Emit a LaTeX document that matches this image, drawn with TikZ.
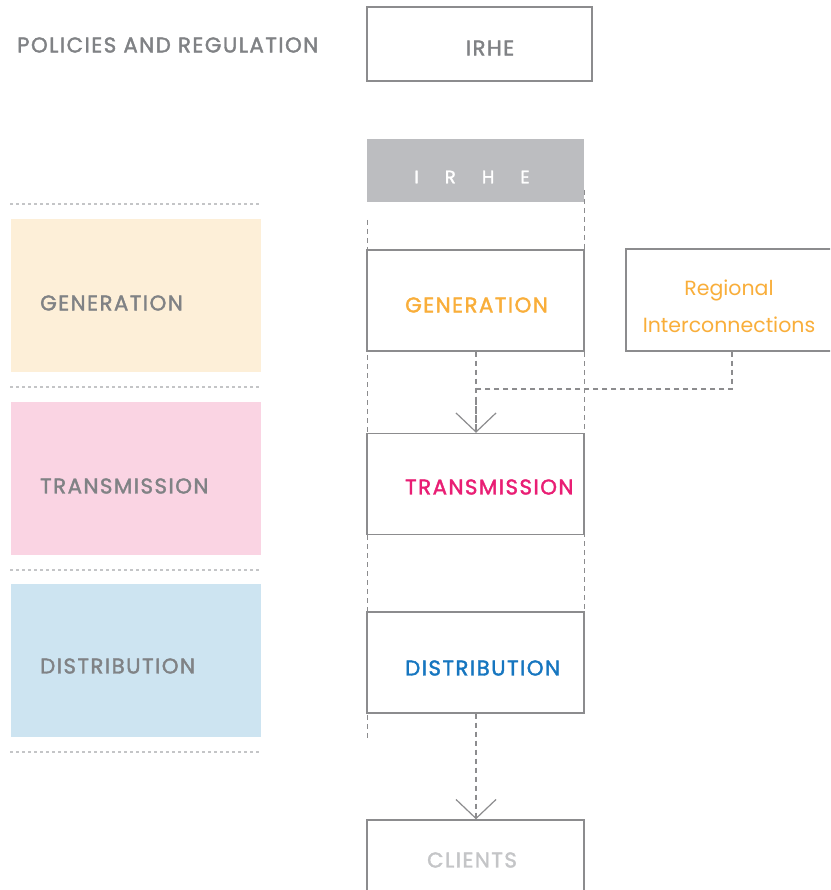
\documentclass[tikz,border=0pt]{standalone}
\usepackage{fontspec}
\setmainfont{Poppins}
\newfontfamily\capsfont{Poppins}[LetterSpace=7,FakeBold=1.8]
\usetikzlibrary{arrows.meta}

\definecolor{txtgray}{HTML}{808285}
\definecolor{linegray}{HTML}{8C8C8E}
\definecolor{bargray}{HTML}{BCBDC0}
\definecolor{lightgray}{HTML}{C4C5C7}
\definecolor{genorange}{HTML}{F9AE3A}
\definecolor{transpink}{HTML}{E91E74}
\definecolor{distblue}{HTML}{1676C0}
\definecolor{genfill}{HTML}{FDEFD8}
\definecolor{transfill}{HTML}{FAD4E3}
\definecolor{distfill}{HTML}{CDE4F1}

\tikzset{
  box/.style={draw=linegray,line width=1.4pt,minimum width=217pt,minimum height=101pt,inner sep=0pt},
  band/.style={minimum width=250pt,minimum height=153pt,inner sep=0pt},
  label/.style={font=\capsfont\fontsize{21.3}{22}\selectfont,text=txtgray,inner sep=0pt},
  flow/.style={draw=linegray,line width=1.2pt,dash pattern=on 5pt off 4pt},
  sep/.style={draw=lightgray,line width=1.3pt,dash pattern=on 3pt off 3pt},
  vee/.style={-{Straight Barb[length=19pt,width=40pt,line width=1.2pt]}}
}

\begin{document}
\begin{tikzpicture}[x=1pt,y=-1pt]
\clip (0,0) rectangle (830,890);
\fill[white] (0,0) rectangle (830,890);

% left column
\draw[sep] (10,204) -- (261,204);
\draw[sep] (10,387) -- (261,387);
\draw[sep] (10,570) -- (261,570);
\draw[sep] (10,752) -- (261,752);
\node[band,fill=genfill] (bgen) at (136,295.5) {};
\node[band,fill=transfill] (btrans) at (136,478.5) {};
\node[band,fill=distfill] (bdist) at (136,660.5) {};
\node[label,anchor=west] at (40,303) {GENERATION};
\node[label,anchor=west] at (40,486) {TRANSMISSION};
\node[label,anchor=west] at (40,666) {DISTRIBUTION};

% regulator
\node[label,anchor=west] (policy) at (17,45) {POLICIES AND REGULATION};
\node[box,minimum width=225pt,minimum height=74pt] (irhe) at (479.5,44) {};
\node[label] at (490,48) {IRHE};

% operator bar and boundary
\node[fill=bargray,minimum width=217pt,minimum height=63pt,inner sep=0pt] (irhebar) at (475,170.5) {};
\node[font=\capsfont\fontsize{18}{20}\selectfont,text=white] at (472,177) {I\hspace{1.45em}R\hspace{1.45em}H\hspace{1.45em}E};
\draw[flow,line width=1pt] (367,220) -- (367,740);
\draw[flow,line width=1pt] (584,190) -- (584,612);

% chain of activities
\node[box,fill=white] (gen) at (475.5,300.5) {};
\node[box,fill=white] (trans) at (475.5,484) {};
\node[box,fill=white] (dist) at (475.5,662.5) {};
\node[box,minimum height=80pt] (clients) at (475.5,860) {};
\node[box,minimum width=210pt,minimum height=102pt] (regional) at (731,300) {};

\node[label,text=genorange,anchor=west] at (405,305) {GENERATION};
\node[label,text=transpink,anchor=west] at (405,487) {TRANSMISSION};
\node[label,text=distblue,anchor=west] at (405,668) {DISTRIBUTION};
\node[label,text=lightgray] at (472,860) {CLIENTS};
\node[text=genorange,align=center,font=\fontsize{20.5}{37}\selectfont,inner sep=0pt] at (729,306) {Regional\\Interconnections};

% flows
\draw[flow] (gen.south -| 476,0) -- (trans.north -| 476,0);
\draw[flow,vee] (476,400) -- (trans.north -| 476,0);
\draw[flow] (regional.south -| 732,0) -- (732,389) -- (476,389);
\draw[flow,vee] (dist.south -| 476,0) -- (clients.north -| 476,0);
\end{tikzpicture}
\end{document}
